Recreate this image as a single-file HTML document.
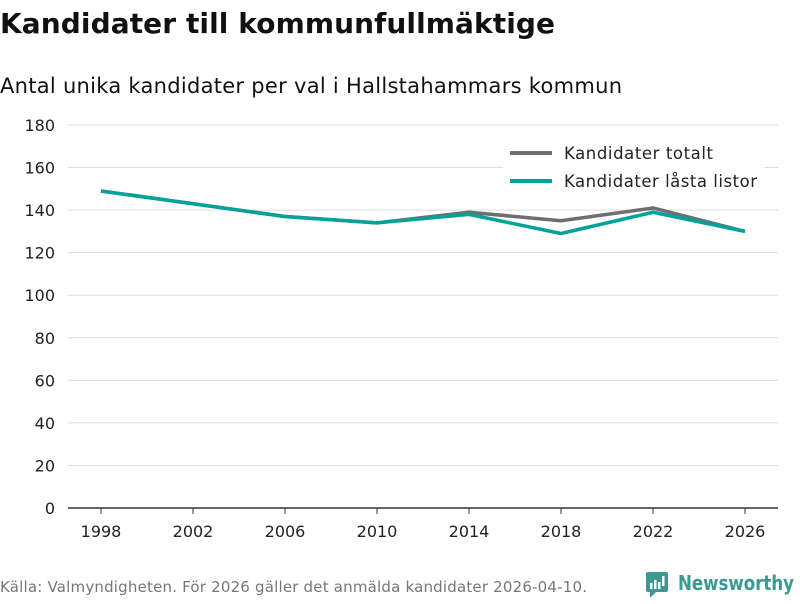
<!DOCTYPE html>
<html><head><meta charset="utf-8"><style>
body{margin:0;width:800px;height:600px;background:#fff;font-family:"DejaVu Sans","Liberation Sans",sans-serif;overflow:hidden}
</style></head><body>
<svg width="800" height="600" xmlns="http://www.w3.org/2000/svg">
<text x="0" y="33" font-size="28" font-weight="bold" fill="#111" textLength="555">Kandidater till kommunfullmäktige</text>
<text x="0" y="93" font-size="21" fill="#111" textLength="622">Antal unika kandidater per val i Hallstahammars kommun</text>
<g id="grid"></g>
<g id="xaxis"></g>
<g id="lines"></g>
<g>
<rect x="503" y="140" width="262" height="55" fill="#fff" opacity="0.9"/>
<line x1="510" y1="153" x2="552" y2="153" stroke="#6e6e6e" stroke-width="4"/>
<text x="564" y="159" font-size="16.5" fill="#222" textLength="149">Kandidater totalt</text>
<line x1="510" y1="181" x2="552" y2="181" stroke="#00a39a" stroke-width="4"/>
<text x="564" y="187" font-size="16.5" fill="#222" textLength="193">Kandidater låsta listor</text>
</g>
<text x="0" y="592" font-size="15" fill="#777" textLength="587">Källa: Valmyndigheten. För 2026 gäller det anmälda kandidater 2026-04-10.</text>
<g>
<rect x="646" y="572" width="22" height="20" rx="2" fill="#3a9a92"/>
<polygon points="650,592 656,592 650,598" fill="#3a9a92"/>
<rect x="650" y="583" width="2.5" height="6" fill="#fff"/><rect x="654" y="580" width="2.5" height="9" fill="#fff"/><rect x="658" y="582" width="2.5" height="7" fill="#fff"/><rect x="662" y="576" width="2.5" height="10" fill="#fff"/>
<text x="678" y="590" font-size="20" font-weight="bold" fill="#3a9a92" textLength="116" lengthAdjust="spacingAndGlyphs">Newsworthy</text>
</g>
</svg>
<script>
const years=[1998,2002,2006,2010,2014,2018,2022,2026];
const totalt=[149,143,137,134,139,135,141,130];
const lasta=[149,143,137,134,138,129,139,130];
const yTicks=[0,20,40,60,80,100,120,140,160,180];
const NS="http://www.w3.org/2000/svg";
const X=y=>101+(y-1998)*23;
const Y=v=>508-v*(383/180);
const grid=document.getElementById('grid');
yTicks.forEach(t=>{
 const l=document.createElementNS(NS,'line');
 l.setAttribute('x1',68);l.setAttribute('x2',778);l.setAttribute('y1',Y(t));l.setAttribute('y2',Y(t));
 l.setAttribute('stroke',t===0?'#333':'#ddd');l.setAttribute('stroke-width',t===0?1.5:1);
 
 
 grid.appendChild(l);
 const tx=document.createElementNS(NS,'text');
 tx.setAttribute('x',55);tx.setAttribute('y',Y(t)+6);tx.setAttribute('text-anchor','end');tx.setAttribute('font-size','16');tx.setAttribute('fill','#222');
 tx.textContent=t;
 
 
 grid.appendChild(tx);
});
const xa=document.getElementById('xaxis');
years.forEach(yr=>{
 const l=document.createElementNS(NS,'line');
 l.setAttribute('x1',X(yr));l.setAttribute('x2',X(yr));l.setAttribute('y1',508);l.setAttribute('y2',514);l.setAttribute('stroke','#333');
 
 
 xa.appendChild(l);
 const tx=document.createElementNS(NS,'text');
 tx.setAttribute('x',X(yr));tx.setAttribute('y',537);tx.setAttribute('text-anchor','middle');tx.setAttribute('font-size','16');tx.setAttribute('fill','#222');
 tx.textContent=yr;
 
 
 xa.appendChild(tx);
});
const lg=document.getElementById('lines');
[[totalt,'#6e6e6e','line-totalt'],[lasta,'#00a39a','line-lasta']].forEach(([d,c,n])=>{
 const p=document.createElementNS(NS,'polyline');
 p.setAttribute('points',d.map((v,i)=>X(years[i])+','+Y(v)).join(' '));
 p.setAttribute('fill','none');p.setAttribute('stroke',c);p.setAttribute('stroke-width',3.5);p.setAttribute('stroke-linejoin','round');
 
 
 lg.appendChild(p);
});
</script>
</body></html>
